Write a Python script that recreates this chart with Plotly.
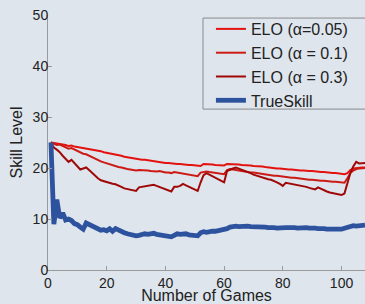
import plotly.graph_objects as go

games = list(range(1, 109))

trueskill = [25.0, 9.0, 13.8, 10.2, 11.2, 9.8, 10.0, 9.7, 9.1, 8.9,
             8.4, 8.0, 9.2, 8.9, 8.5, 8.2, 7.9, 7.8, 7.9, 7.7,
             8.1, 7.6, 8.1, 7.8, 7.4, 7.3, 7.1, 6.9, 6.8, 6.7,
             6.8, 7.0, 7.1, 7.0, 7.2, 7.2, 7.0, 6.9, 6.8, 6.7,
             6.6, 6.5, 6.8, 7.1, 7.0, 7.1, 7.1, 6.9, 6.8, 6.7,
             6.7, 7.3, 7.5, 7.4, 7.6, 7.6, 7.6, 7.7, 7.8, 7.9,
             8.1, 8.4, 8.6, 8.6, 8.5, 8.6, 8.5, 8.6, 8.5, 8.5,
             8.6, 8.4, 8.5, 8.4, 8.3, 8.4, 8.3, 8.2, 8.3, 8.2,
             8.3, 8.3, 8.4, 8.3, 8.2, 8.3, 8.2, 8.3, 8.2, 8.3,
             8.2, 8.1, 8.2, 8.1, 8.0, 8.1, 8.0, 8.0, 7.9, 8.0,
             8.2, 8.4, 8.6, 8.7, 8.6, 8.7, 8.8, 8.8]

elo_005 = [25.0, 24.9, 24.8, 24.8, 24.6, 24.5, 24.3, 24.4, 24.2, 24.1,
           24.0, 23.9, 23.9, 23.7, 23.6, 23.5, 23.4, 23.3, 23.1, 23.0,
           22.9, 22.8, 22.6, 22.5, 22.4, 22.2, 22.1, 21.9, 21.8, 21.7,
           21.7, 21.6, 21.6, 21.5, 21.4, 21.3, 21.3, 21.2, 21.1, 21.0,
           21.0, 20.9, 20.9, 20.8, 20.8, 20.7, 20.7, 20.6, 20.6, 20.5,
           20.5, 20.4, 20.8, 20.8, 20.7, 20.7, 20.6, 20.6, 20.5, 20.5,
           20.8, 20.8, 20.8, 20.7, 20.7, 20.6, 20.6, 20.5, 20.5, 20.4,
           20.4, 20.3, 20.3, 20.2, 20.1, 20.1, 20.0, 19.9, 19.9, 19.8,
           19.8, 19.7, 19.7, 19.6, 19.6, 19.5, 19.5, 19.4, 19.4, 19.4,
           19.3, 19.3, 19.2, 19.2, 19.1, 19.1, 19.0, 19.0, 18.9, 18.9,
           18.8, 19.0, 19.6, 19.9, 20.0, 20.0, 20.1, 20.1]

elo_01 = [25.0, 24.8, 24.5, 24.6, 24.3, 24.1, 23.8, 23.9, 23.6, 23.3,
          23.0, 22.8, 22.7, 22.4, 22.1, 21.8, 21.5, 21.3, 21.1, 20.9,
          20.7, 20.5, 20.4, 20.2, 20.1, 19.9, 19.8, 19.7, 19.6, 19.5,
          19.6, 19.6, 19.5, 19.5, 19.4, 19.3, 19.3, 19.4, 19.2, 19.1,
          19.1, 19.0, 19.2, 19.1, 19.0, 18.9, 18.8, 18.7, 18.6, 18.5,
          18.4, 19.1, 19.2, 19.3, 19.2, 19.1, 19.0, 19.0, 18.9, 18.8,
          19.6, 19.8, 19.7, 19.6, 19.4, 19.3, 19.3, 19.2, 19.1, 19.1,
          19.0, 18.9, 18.8, 18.7, 18.7, 18.6, 18.5, 18.5, 18.4, 18.3,
          18.3, 18.2, 18.1, 18.1, 18.0, 17.9, 17.9, 17.8, 17.7, 17.7,
          17.6, 17.6, 17.5, 17.5, 17.4, 17.4, 17.3, 17.3, 17.2, 17.2,
          17.1, 18.0, 19.0, 19.5, 19.8, 19.9, 20.0, 20.0]

elo_03 = [25.0, 24.0, 23.6, 23.1, 22.4, 21.8, 21.2, 21.6, 21.0, 20.4,
          19.7, 19.9, 20.1, 19.6, 19.0, 18.6, 18.0, 17.6, 17.4, 17.2,
          17.1, 16.9, 16.8, 16.6, 16.3, 16.0, 15.9, 15.8, 15.7, 15.5,
          16.2, 16.3, 16.4, 16.5, 16.6, 16.7, 16.5, 16.3, 16.1, 15.9,
          15.7, 15.4, 16.3, 16.3, 16.5, 16.9, 16.6, 16.3, 16.0, 15.7,
          15.5, 17.2, 18.6, 19.0, 18.7, 18.3, 18.0, 17.7, 17.4, 17.2,
          19.4, 19.7, 19.9, 20.1, 19.9, 19.6, 19.4, 19.2, 19.0, 18.7,
          18.5, 18.3, 18.2, 18.0, 17.8, 17.7, 17.5, 17.2, 16.9, 16.5,
          17.1, 17.0, 16.9, 16.8, 16.7, 16.6, 16.4, 16.3, 16.1, 16.0,
          15.8, 16.2, 15.9, 15.6, 15.4, 15.2, 15.1, 14.9, 14.8, 14.7,
          15.0, 16.9, 19.0, 20.3, 21.2, 20.9, 21.0, 21.0]

x_ticks = [0, 20, 40, 60, 80, 100]
y_ticks = [0, 10, 20, 30, 40, 50]

bg = "#dee5ed"
axis_col = "#9a9a9a"

fig = go.Figure()
fig.add_trace(go.Scatter(x=games, y=elo_005, mode="lines", name="ELO (α=0.05)",
                         line=dict(color="#e3120f", width=2)))
fig.add_trace(go.Scatter(x=games, y=elo_01, mode="lines", name="ELO (α = 0.1)",
                         line=dict(color="#cc1a14", width=2)))
fig.add_trace(go.Scatter(x=games, y=elo_03, mode="lines", name="ELO (α = 0.3)",
                         line=dict(color="#a00808", width=2)))
fig.add_trace(go.Scatter(x=games, y=trueskill, mode="lines", name="TrueSkill",
                         line=dict(color="#2d539f", width=4.8)))

axis_common = dict(showline=True, linecolor=axis_col, linewidth=1,
                   ticks="inside", ticklen=4, tickcolor=axis_col,
                   showgrid=False, zeroline=False, automargin=False,
                   tickfont=dict(size=14, color="#222222"))

fig.update_layout(
    width=365, height=304,
    margin=dict(l=48, r=0, t=15, b=34),
    paper_bgcolor=bg, plot_bgcolor=bg,
    font=dict(family="Liberation Sans, Arial, sans-serif", color="#222222"),
    xaxis=dict(range=[0, 108], tickvals=x_ticks,
               title=dict(text="Number of Games", font=dict(size=16), standoff=0),
               **axis_common),
    yaxis=dict(range=[0, 50], tickvals=y_ticks, ticklabelstandoff=-4,
               title=dict(text="Skill Level", font=dict(size=16), standoff=6),
               **axis_common),
    legend=dict(x=0.514, y=1.0118, xanchor="left", yanchor="top",
                bgcolor="rgba(0,0,0,0)", borderwidth=0,
                font=dict(size=16, color="#222222"), itemwidth=30,
                tracegroupgap=0),
    shapes=[dict(type="rect", xref="paper", yref="paper",
                 x0=0.489, x1=1.05, y0=0.631, y1=0.988,
                 line=dict(color="#8a8a8a", width=1), layer="below")],
    showlegend=True,
)

fig.write_html("out.html",
               config={"displayModeBar": False},
               post_script="document.body.style.margin='0';"
                           "document.body.style.overflow='hidden';")
